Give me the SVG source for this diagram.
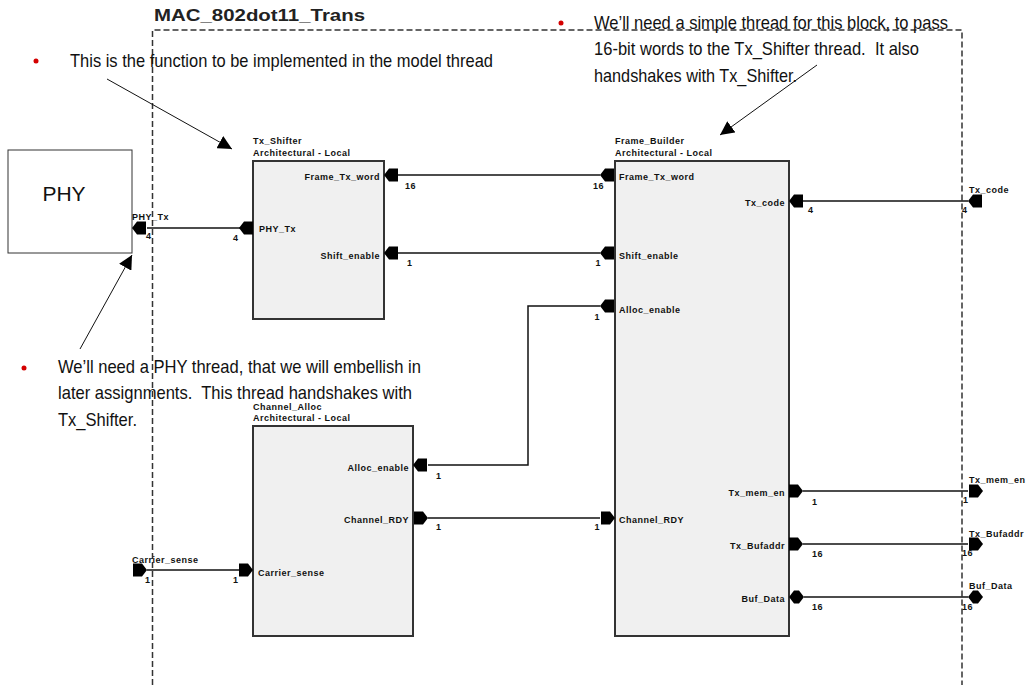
<svg xmlns="http://www.w3.org/2000/svg" width="1030" height="685" viewBox="0 0 1030 685">
<style>
.body{font-family:"Liberation Sans Narrow","Liberation Sans",Arial,sans-serif;font-size:19px;fill:#111}
.title{font-family:"Liberation Sans",Arial,sans-serif;font-size:17px;font-weight:bold;fill:#222}
.sm{font-family:"Liberation Sans",Arial,sans-serif;font-size:9px;font-weight:bold;fill:#111;letter-spacing:0.5px}
.end{text-anchor:end}
.blk{fill:#f0f0f0;stroke:#333;stroke-width:2}
.wire{fill:none;stroke:#111;stroke-width:1.5}
.note{fill:none;stroke:#111;stroke-width:1}
.port{fill:#000}
.dot{fill:#d40000}
</style>
<defs>
<path id="pl" d="M0,0 L5,-6.5 L14,-6.5 L14,6.5 L5,6.5 Z"/>
<path id="pr" d="M0,0 L-5,-6.5 L-14,-6.5 L-14,6.5 L-5,6.5 Z"/>
<path id="dm" d="M0,0 L5,-6.5 L10,-6.5 L15,0 L10,6.5 L5,6.5 Z"/>
<marker id="ah" viewBox="0 0 10 10" refX="10" refY="5" markerWidth="14" markerHeight="14" markerUnits="userSpaceOnUse" orient="auto">
<path d="M0,0 L10,5 L0,10 Z" fill="#000"/>
</marker>
</defs>
<rect width="1030" height="685" fill="#fff"/>

<g id="boundary">
<path d="M152.5,685 V30 H962 V685" fill="none" stroke="#333" stroke-width="1.5" stroke-dasharray="6,3"/>
<text class="title" x="154" y="21" textLength="211" lengthAdjust="spacingAndGlyphs">MAC_802dot11_Trans</text>
</g>

<g id="notes">
<circle class="dot" cx="36" cy="61" r="2.5"/>
<text class="body" x="70" y="67" textLength="423" lengthAdjust="spacingAndGlyphs">This is the function to be implemented in the model thread</text>
<circle class="dot" cx="561" cy="23" r="2.5"/>
<text class="body" x="594" y="29" textLength="354" lengthAdjust="spacingAndGlyphs">We’ll need a simple thread for this block, to pass</text>
<text class="body" x="594" y="55" textLength="325" lengthAdjust="spacingAndGlyphs" xml:space="preserve">16-bit words to the Tx_Shifter thread.  It also</text>
<text class="body" x="594" y="81.5" textLength="203" lengthAdjust="spacingAndGlyphs">handshakes with Tx_Shifter.</text>
<circle class="dot" cx="24" cy="368" r="2.5"/>
<text class="body" x="58" y="373" textLength="363" lengthAdjust="spacingAndGlyphs">We’ll need a PHY thread, that we will embellish in</text>
<text class="body" x="58" y="399" textLength="354" lengthAdjust="spacingAndGlyphs" xml:space="preserve">later assignments.  This thread handshakes with</text>
<text class="body" x="58" y="426" textLength="79" lengthAdjust="spacingAndGlyphs">Tx_Shifter.</text>
<line class="note" x1="107" y1="79" x2="232" y2="149" marker-end="url(#ah)"/>
<line class="note" x1="817" y1="65" x2="720" y2="135" marker-end="url(#ah)"/>
<line class="note" x1="80" y1="349" x2="132" y2="255" marker-end="url(#ah)"/>
</g>

<g id="PHY">
<rect x="8" y="150" width="124" height="103" fill="#fff" stroke="#333" stroke-width="1"/>
<text class="body" x="64" y="201" text-anchor="middle" style="font-size:21px">PHY</text>
</g>

<g id="connectors">
<line class="wire" x1="147" y1="228" x2="240" y2="228"/>
<line class="wire" x1="398" y1="175" x2="600" y2="175"/>
<line class="wire" x1="398" y1="253" x2="600" y2="253"/>
<line class="wire" x1="803" y1="201" x2="968" y2="201"/>
<polyline class="wire" points="600,306 528,306 528,465 428,465"/>
<line class="wire" x1="428" y1="518" x2="600" y2="518"/>
<line class="wire" x1="803" y1="491" x2="968" y2="491"/>
<line class="wire" x1="803" y1="544" x2="968" y2="544"/>
<line class="wire" x1="804" y1="597" x2="968" y2="597"/>
<line class="wire" x1="147" y1="570" x2="240" y2="570"/>
</g>

<g id="ext_ports">
<use href="#pl" class="port" x="132" y="228"/>
<text class="sm" x="132" y="220">PHY_Tx</text>
<text class="sm" x="146" y="239">4</text>
<use href="#pr" class="port" x="147" y="570"/>
<text class="sm" x="132" y="563">Carrier_sense</text>
<text class="sm" x="145" y="583">1</text>
<use href="#pl" class="port" x="968" y="201"/>
<text class="sm" x="969" y="193">Tx_code</text>
<text class="sm" x="962" y="213">4</text>
<use href="#pr" class="port" x="983" y="491"/>
<text class="sm" x="969" y="483">Tx_mem_en</text>
<text class="sm" x="963" y="503">1</text>
<use href="#pr" class="port" x="983" y="544"/>
<text class="sm" x="969" y="537">Tx_Bufaddr</text>
<text class="sm" x="962" y="556">16</text>
<use href="#dm" class="port" x="968" y="597"/>
<text class="sm" x="969" y="589">Buf_Data</text>
<text class="sm" x="962" y="610">16</text>
</g>

<g id="Tx_Shifter">
<text class="sm" x="253" y="144">Tx_Shifter</text>
<text class="sm" x="253" y="156">Architectural - Local</text>
<rect class="blk" x="253" y="161" width="131" height="158"/>
<use href="#pl" class="port" x="384" y="175"/>
<text class="sm end" x="380" y="180">Frame_Tx_word</text>
<text class="sm" x="405" y="189">16</text>
<use href="#pl" class="port" x="239" y="228"/>
<text class="sm" x="259" y="232">PHY_Tx</text>
<text class="sm" x="233" y="241">4</text>
<use href="#pl" class="port" x="384" y="253"/>
<text class="sm end" x="380" y="259">Shift_enable</text>
<text class="sm" x="407" y="266">1</text>
</g>

<g id="Frame_Builder">
<text class="sm" x="615" y="144">Frame_Builder</text>
<text class="sm" x="615" y="156">Architectural - Local</text>
<rect class="blk" x="615" y="161" width="174" height="475"/>
<use href="#pl" class="port" x="600" y="175"/>
<text class="sm" x="619" y="180">Frame_Tx_word</text>
<text class="sm end" x="604" y="189">16</text>
<use href="#pl" class="port" x="789" y="201"/>
<text class="sm end" x="785" y="206">Tx_code</text>
<text class="sm" x="808" y="213">4</text>
<use href="#pl" class="port" x="600" y="253"/>
<text class="sm" x="619" y="259">Shift_enable</text>
<text class="sm end" x="601" y="266">1</text>
<use href="#pl" class="port" x="600" y="306"/>
<text class="sm" x="619" y="313">Alloc_enable</text>
<text class="sm end" x="600" y="320">1</text>
<use href="#pr" class="port" x="615" y="518"/>
<text class="sm" x="619" y="523">Channel_RDY</text>
<text class="sm end" x="600" y="530">1</text>
<use href="#pr" class="port" x="803" y="491"/>
<text class="sm end" x="785" y="496">Tx_mem_en</text>
<text class="sm" x="812" y="505">1</text>
<use href="#pr" class="port" x="803" y="544"/>
<text class="sm end" x="785" y="549">Tx_Bufaddr</text>
<text class="sm" x="812" y="557">16</text>
<use href="#dm" class="port" x="789" y="597"/>
<text class="sm end" x="785" y="602">Buf_Data</text>
<text class="sm" x="812" y="610">16</text>
</g>

<g id="Channel_Alloc">
<text class="sm" x="253" y="410">Channel_Alloc</text>
<text class="sm" x="253" y="421">Architectural - Local</text>
<rect class="blk" x="253" y="426" width="160" height="210"/>
<use href="#pl" class="port" x="413" y="465"/>
<text class="sm end" x="409" y="471">Alloc_enable</text>
<text class="sm" x="436" y="479">1</text>
<use href="#pr" class="port" x="428" y="518"/>
<text class="sm end" x="409" y="523">Channel_RDY</text>
<text class="sm" x="436" y="530">1</text>
<use href="#pr" class="port" x="253" y="570"/>
<text class="sm" x="258" y="576">Carrier_sense</text>
<text class="sm" x="233" y="583">1</text>
</g>
</svg>
